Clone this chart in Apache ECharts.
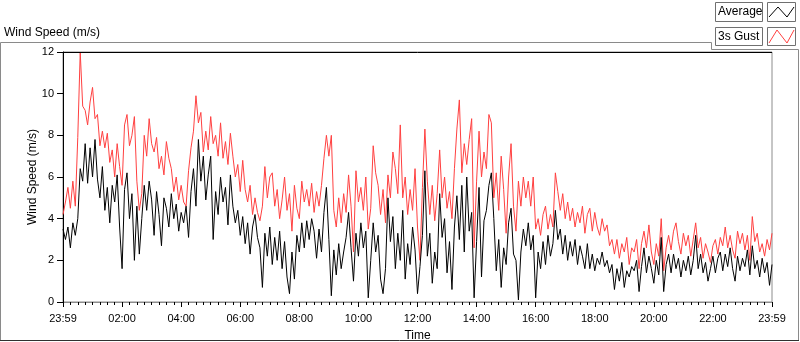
<!DOCTYPE html>
<html>
<head>
<meta charset="utf-8">
<script src="https://cdn.jsdelivr.net/npm/echarts@6/dist/echarts.min.js"></script>
<style>
html,body{margin:0;padding:0;background:#fff;}
#chart{width:800px;height:342px;}
</style>
</head>
<body>
<div id="chart"></div>
<script>
// x tick labels (one every 120 minutes from 23:59 of the previous day)
const tickLabels = ["23:59","02:00","04:00","06:00","08:00","10:00","12:00","14:00","16:00","18:00","20:00","22:00","23:59"];
const sampleMinutes = 5; // one reading every 5 minutes (289 readings)
const seriesNames = ["Average", "3s Gust"];

// 3s Gust (m/s)
const gust = [
4.2,4.8,5.5,4.5,5.8,4.6,7.9,12.0,9.4,9.2, 8.5,9.6,10.3,8.8,9.0,7.5,8.2,7.4,8.1,6.7,
7.3,6.0,7.6,6.5,5.6,8.5,9.0,7.5,8.0,8.9, 5.8,4.4,5.2,8.0,7.0,8.8,7.6,7.2,7.9,6.4,
7.0,6.1,7.7,6.9,6.4,5.3,6.0,4.9,5.6,4.8, 4.6,6.3,7.4,8.2,9.9,8.6,9.1,7.2,
8.2,7.3,8.9,7.6,8.0,7.0,8.6,6.9,7.7,6.6, 8.1,7.0,6.0,6.6,5.3,6.8,5.4,4.8,5.6,4.2,
5.0,4.3,3.9,4.6,6.5,5.0,6.0,6.2,4.6,5.4, 4.0,4.9,6.0,4.4,5.2,3.4,5.6,4.5,4.0,5.8,
4.8,5.4,4.6,5.7,4.3,5.3,4.6,5.6,6.9,8.0, 7.0,8.0,4.4,3.6,5.0,3.8,5.2,4.3,
6.1,4.6,2.4,6.3,4.8,5.5,4.4,6.0,3.5,4.5, 7.5,6.2,5.6,4.2,5.4,3.8,6.1,5.0,7.2,6.4,
5.2,8.5,5.0,6.0,4.2,5.4,4.4,6.4,3.6,2.0, 5.5,8.3,5.8,4.2,5.6,3.9,5.2,7.3,5.0,6.0,
4.5,5.3,4.0,6.4,8.3,9.7,6.2,7.6,6.6,7.8, 8.8,2.6,5.8,8.2,6.0,7.2,6.4,9.0,
8.6,5.0,6.2,4.4,7.0,5.4,3.3,6.0,7.6,4.6, 3.4,5.8,4.6,6.0,5.0,5.8,4.6,6.0,3.5,4.0,
3.2,4.2,4.6,3.5,4.2,3.6,6.2,5.3,4.4,5.2, 4.0,4.8,3.9,4.5,3.6,4.3,3.8,4.6,3.3,4.2,
4.5,3.4,4.3,3.6,3.2,4.0,3.4,3.7,2.7,3.0, 2.3,3.0,2.1,2.8,2.4,3.1,1.8,2.6,
2.4,3.0,1.6,2.8,3.4,2.6,3.7,2.4,1.8,2.8, 2.2,4.0,1.5,2.6,3.2,2.5,3.4,3.8,2.9,2.3,
3.3,2.7,3.2,2.2,3.0,3.8,2.6,3.1,2.1,2.8, 2.4,1.9,2.7,3.0,2.3,3.1,2.7,3.6,2.6,3.2,
2.5,2.1,3.4,2.8,3.3,2.5,3.2,2.0,4.1,2.9, 3.3,2.4,2.8,2.2,3.0,2.5,3.3
];

// Average (m/s)
const average = [
3.5,3.0,3.6,2.6,3.8,3.2,4.0,6.4,5.8,7.6, 5.7,7.4,6.0,7.8,5.9,5.0,6.5,4.4,5.5,3.8,
5.6,4.8,6.1,3.6,1.6,5.4,6.2,4.0,5.2,2.0, 4.6,2.3,4.0,5.6,4.4,5.8,4.9,3.2,5.3,4.2,
2.7,5.0,4.5,3.6,5.2,4.0,4.7,3.4,4.3,3.8, 4.6,3.1,5.3,6.4,4.6,7.8,5.8,7.0,
4.9,6.1,7.0,3.0,5.3,4.2,6.0,4.8,5.5,3.7, 6.1,4.6,3.8,4.4,3.2,4.1,2.8,3.8,2.3,3.6,
4.2,3.1,2.6,0.7,3.3,2.2,3.6,1.8,3.1,2.0, 3.4,1.6,2.9,1.2,0.4,2.4,1.1,3.2,2.4,3.8,
2.6,3.9,3.0,4.0,3.4,2.1,3.5,2.4,4.3,5.5, 3.0,0.3,2.5,1.3,2.8,1.6,2.4,3.1,
4.3,2.6,1.0,3.3,2.2,3.8,2.6,3.4,0.2,2.0, 3.8,2.4,3.2,1.1,0.4,1.6,5.0,2.9,4.1,1.6,
3.3,2.0,4.4,1.1,2.8,1.8,3.6,2.5,0.4,1.7, 3.2,6.3,2.2,3.3,0.9,2.4,1.6,5.2,3.1,4.0,
1.4,2.9,0.6,3.6,5.1,3.0,5.6,2.4,6.0,3.4, 4.3,0.2,2.9,5.5,1.2,3.9,4.4,5.6,
6.2,4.0,1.5,3.0,0.7,2.6,1.8,3.8,4.5,2.3, 2.0,0.1,2.4,3.5,2.7,3.8,2.5,3.2,0.2,2.4,
1.6,2.9,1.8,3.2,2.2,2.8,4.4,3.0,3.5,2.3, 3.2,2.0,2.9,2.2,3.0,1.8,2.7,2.2,1.6,2.8,
1.6,2.3,1.5,2.1,1.8,2.4,1.7,2.0,1.4,1.8, 0.6,1.6,1.0,1.9,0.7,1.5,1.2,1.7,
1.5,2.0,0.5,1.7,2.6,1.4,2.2,1.6,0.9,2.0, 1.3,3.1,0.5,1.8,2.3,1.4,2.3,1.6,2.1,1.2,
2.0,1.5,2.2,1.3,2.0,3.2,1.6,2.3,1.4,1.9, 1.0,1.6,2.2,1.4,2.1,2.4,1.5,2.3,1.7,2.6,
1.6,1.0,2.2,1.5,2.1,1.7,2.5,1.3,2.7,1.6, 2.0,1.2,2.1,1.4,1.9,0.8,1.8
];

const toPairs = arr => arr.map((v, i) => [i * sampleMinutes, v]);
const FONT = "Liberation Sans";

const chart = echarts.init(document.getElementById('chart'), null, {renderer: 'canvas'});
chart.setOption({
  animation: false,
  backgroundColor: '#ffffff',
  textStyle: {fontFamily: FONT},
  grid: {left: 63, right: 28, top: 52, bottom: 40, show: true, borderColor: '#8c8c8c', borderWidth: 1, backgroundColor: '#ffffff', containLabel: false, outerBoundsMode: 'none'},
  xAxis: {
    type: 'value', min: 0, max: 1440, interval: 120,
    name: 'Time', nameLocation: 'middle', nameGap: 28, nameMoveOverlap: false,
    nameTextStyle: {fontFamily: FONT, fontSize: 12, color: '#000'},
    axisLine: {show: true, lineStyle: {color: '#8c8c8c', width: 1}},
    axisTick: {show: true, length: 5, lineStyle: {color: '#000', width: 1}},
    minorTick: {show: true, splitNumber: 8, length: 3, lineStyle: {color: '#000', width: 1}},
    splitLine: {show: false},
    axisLabel: {margin: 11, fontFamily: FONT, fontSize: 11, color: '#000',
      formatter: v => tickLabels[Math.round(v / 120)] || ''}
  },
  yAxis: {
    type: 'value', min: 0, max: 12, interval: 2,
    name: 'Wind Speed (m/s)', nameLocation: 'middle', nameGap: 24, nameMoveOverlap: false,
    nameTextStyle: {fontFamily: FONT, fontSize: 12, color: '#000'},
    axisLine: {show: true, lineStyle: {color: '#000', width: 1}},
    axisTick: {show: true, length: 6, lineStyle: {color: '#000', width: 1}},
    splitLine: {show: false},
    axisLabel: {margin: 9, fontFamily: FONT, fontSize: 11, color: '#000'}
  },
  series: [
    {name: seriesNames[1], type: 'line', data: toPairs(gust), symbol: 'none', sampling: false,
     lineStyle: {color: '#ff4040', width: 1}, itemStyle: {color: '#ff4040'}, z: 2},
    {name: seriesNames[0], type: 'line', data: toPairs(average), symbol: 'none', sampling: false,
     lineStyle: {color: '#000000', width: 1}, itemStyle: {color: '#000000'}, z: 3}
  ],
  graphic: [
    // title
    {type: 'text', left: 4, top: 27, style: {text: 'Wind Speed (m/s)', font: '12px "' + FONT + '"', fill: '#000'}},
    // outer frame
    {type: 'polyline', shape: {points: [[0.5,340],[0.5,42.5],[711.5,42.5],[711.5,49.5],[798.5,49.5],[798.5,340]]}, style: {stroke: '#8a8a8a', lineWidth: 1, fill: null}},
    {type: 'line', shape: {x1: 0, y1: 340.5, x2: 799, y2: 340.5}, style: {stroke: '#303030', lineWidth: 1}},
    // plot frame top (dark)
    {type: 'line', shape: {x1: 63, y1: 52.5, x2: 772, y2: 52.5}, style: {stroke: '#000', lineWidth: 1}, z: 10},
    // legend boxes
    {type: 'rect', shape: {x: 715.5, y: 2.5, width: 47, height: 19}, style: {fill: '#fff', stroke: '#707070', lineWidth: 1}},
    {type: 'text', left: 718, top: 6, style: {text: seriesNames[0], font: '12px "' + FONT + '"', fill: '#000'}},
    {type: 'rect', shape: {x: 767.5, y: 2.5, width: 28, height: 19}, style: {fill: '#fff', stroke: '#707070', lineWidth: 1}},
    {type: 'polyline', shape: {points: [[769,17],[778,7],[787,17],[794,7]]}, style: {stroke: '#000', lineWidth: 1, fill: null}},
    {type: 'rect', shape: {x: 715.5, y: 27.5, width: 47, height: 18}, style: {fill: '#fff', stroke: '#707070', lineWidth: 1}},
    {type: 'text', left: 718, top: 31, style: {text: seriesNames[1], font: '12px "' + FONT + '"', fill: '#000'}},
    {type: 'rect', shape: {x: 767.5, y: 27.5, width: 28, height: 18}, style: {fill: '#fff', stroke: '#707070', lineWidth: 1}},
    {type: 'polyline', shape: {points: [[769,43],[777,30],[787,43],[794,30]]}, style: {stroke: '#ff4040', lineWidth: 1, fill: null}}
  ]
});
</script>
</body>
</html>
